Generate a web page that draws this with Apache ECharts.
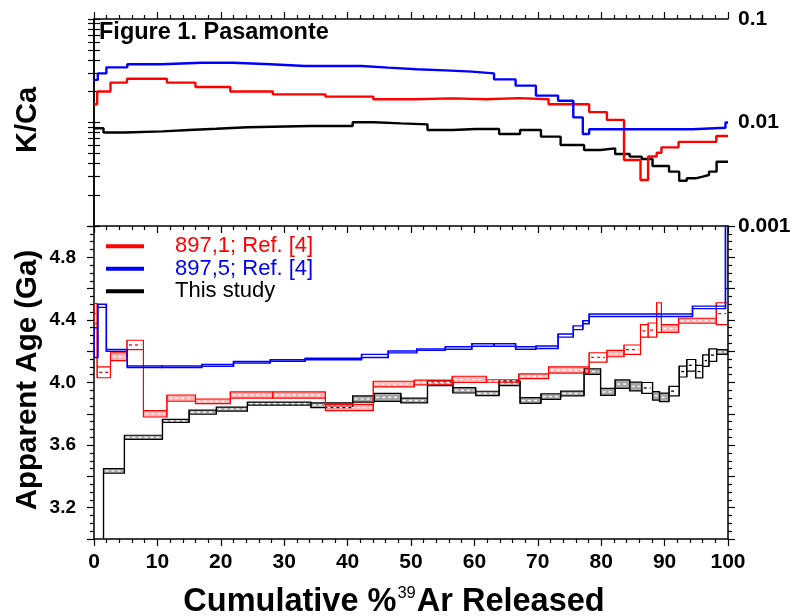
<!DOCTYPE html>
<html>
<head>
<meta charset="utf-8">
<script src="https://cdn.jsdelivr.net/npm/echarts@6/dist/echarts.min.js"></script>
<style>
  html, body { margin: 0; padding: 0; background: #fff; }
  #chart { width: 794px; height: 616px; }
</style>
</head>
<body>
<div id="chart"></div>
<script>
// ---- Step data: cumulative %39Ar step edges, K/Ca, apparent age (Ga) and 1-sigma half-width ----

// 897,1 (Ref. [4])
const redEdges = [0, 0.5, 2.6, 5.2, 7.8, 11.5, 16.0, 21.5, 28.2, 36.5, 44.05, 50.5, 56.5, 61.9, 67.0, 71.7, 78.1, 80.9, 83.6, 86.2, 87.4, 88.75, 89.5, 92.2, 98.15, 100];
const redKCa = [0.015, 0.0199, 0.0243, 0.0265, 0.0265, 0.0243, 0.022, 0.0199, 0.0187, 0.0178, 0.0168, 0.0171, 0.0168, 0.0172, 0.0168, 0.015, 0.0126, 0.0106, 0.00434, 0.00278, 0.0047, 0.0051, 0.00575, 0.0065, 0.0074];
const redAge = [4.44, 4.065, 4.165, 4.24, 3.80, 3.90, 3.88, 3.92, 3.92, 3.84, 3.99, 4.00, 4.02, 4.01, 4.04, 4.08, 4.16, 4.185, 4.21, 4.33, 4.335, 4.415, 4.345, 4.395, 4.44];
const redErr = [0.065, 0.035, 0.025, 0.03, 0.02, 0.02, 0.015, 0.02, 0.02, 0.02, 0.018, 0.015, 0.02, 0.008, 0.015, 0.02, 0.03, 0.02, 0.03, 0.04, 0.045, 0.095, 0.025, 0.016, 0.07];

// 897,5 (Ref. [4])
const blueEdges = [0, 0.6, 1.95, 5.25, 10.7, 17.0, 22.0, 27.8, 33.3, 42.2, 46.4, 50.9, 55.4, 59.6, 63.1, 66.5, 69.7, 73.2, 75.6, 77.1, 78.1, 94.4, 99.6, 100];
const blueKCa = [0.0258, 0.0298, 0.0341, 0.0365, 0.0378, 0.0378, 0.0365, 0.0351, 0.0351, 0.0339, 0.0327, 0.0319, 0.031, 0.0298, 0.0261, 0.0227, 0.0182, 0.0162, 0.0112, 0.00774, 0.0086, 0.0089, 0.0100];
const blueAge = [4.255, 4.49, 4.205, 4.10, 4.10, 4.11, 4.13, 4.14, 4.15, 4.17, 4.195, 4.21, 4.22, 4.24, 4.24, 4.22, 4.225, 4.30, 4.35, 4.385, 4.43, 4.48, 5.2];
const blueErr = [0.095, 0.01, 0.006, 0.005, 0.005, 0.006, 0.005, 0.005, 0.005, 0.01, 0.006, 0.005, 0.008, 0.008, 0.008, 0.008, 0.008, 0.01, 0.012, 0.01, 0.008, 0.008, 0.6];

// This study
const blackEdges = [0, 1.5, 4.8, 10.8, 15.0, 19.3, 24.2, 34.2, 40.8, 44.2, 48.4, 52.6, 56.6, 60.2, 63.9, 67.2, 70.5, 73.6, 77.3, 79.9, 82.2, 84.5, 86.4, 88.1, 89.2, 90.7, 92.3, 93.5, 94.9, 96.0, 97.0, 98.2, 100];
const blackKCa = [0.0088, 0.008, 0.0082, 0.00847, 0.0087, 0.009, 0.00925, 0.00925, 0.01005, 0.0098, 0.0096, 0.00847, 0.00865, 0.00865, 0.00774, 0.00847, 0.0073, 0.00607, 0.00542, 0.00563, 0.00497, 0.00468, 0.00444, 0.0038, 0.0038, 0.00335, 0.00274, 0.00289, 0.003, 0.00311, 0.00335, 0.00418];
const blackAge = [2.97, 3.435, 3.65, 3.755, 3.81, 3.83, 3.865, 3.855, 3.895, 3.905, 3.885, 3.995, 3.95, 3.93, 3.995, 3.885, 3.91, 3.93, 4.07, 3.94, 3.99, 3.975, 3.965, 3.915, 3.905, 3.945, 4.07, 4.11, 4.07, 4.14, 4.175, 4.195];
const blackErr = [0.02, 0.015, 0.013, 0.01, 0.013, 0.013, 0.01, 0.015, 0.02, 0.025, 0.015, 0.015, 0.017, 0.014, 0.015, 0.018, 0.018, 0.015, 0.018, 0.022, 0.027, 0.028, 0.035, 0.027, 0.027, 0.03, 0.035, 0.037, 0.04, 0.037, 0.04, 0.015];

// Axis tick / label values
const xTicks = [0, 100, 10];                  // min, max, major interval
const ageLabels = [3.2, 3.6, 4.0, 4.4, 4.8];
const kcaLabels = [0.001, 0.01, 0.1];
const legendNames = ['897,1; Ref. [4]', '897,5; Ref. [4]', 'This study'];

// ---- Styling ----
const FONT = '"Liberation Sans", Arial, Helvetica, sans-serif';
const RED = '#ff0000', BLUE = '#0000ff', BLACK = '#000000';

// log-axis ticks at 1..9 x each decade
const kcaTicks = [];
kcaLabels.forEach((d, i) => {
  if (i < kcaLabels.length - 1) { for (let k = 1; k <= 9; k++) kcaTicks.push(+(k * d).toPrecision(3)); }
  else kcaTicks.push(d);
});

function kcaSeries(name, color, edges, vals) {
  const data = edges.map((x, i) => [x, vals[Math.min(i, vals.length - 1)]]);
  return {
    type: 'line', name: name + ' K/Ca', xAxisIndex: 0, yAxisIndex: 0,
    step: 'end', data, showSymbol: false, symbol: 'none',
    lineStyle: { color, width: 2.4 }, itemStyle: { color },
    z: 3, silent: true
  };
}

// Age spectrum: box per heating step (age +/- error) joined to its neighbours
function ageSeries(name, color, fill, edges, ages, errs, opts) {
  const data = ages.map((a, i) => [edges[i], edges[i + 1], a - errs[i], a + errs[i], a]);
  return {
    type: 'custom', name, xAxisIndex: 2, yAxisIndex: 2, clip: true,
    data, encode: { x: [0, 1], y: [2, 3] },
    itemStyle: { color }, z: opts.z, silent: true,
    renderItem(params, api) {
      const i = params.dataIndex;
      const x0 = api.value(0), x1 = api.value(1), lo = api.value(2), hi = api.value(3), mid = api.value(4);
      const tl = api.coord([x0, hi]), br = api.coord([x1, lo]);
      const h = br[1] - tl[1];
      const lw = opts.lineWidth;
      const kids = [];
      kids.push({
        type: 'rect',
        shape: { x: tl[0], y: tl[1], width: br[0] - tl[0], height: h },
        style: { fill: (opts.fillNarrow && h < 9) ? fill : 'rgba(0,0,0,0)', stroke: color, lineWidth: lw }
      });
      if (i > 0) {
        const pLo = ages[i - 1] - errs[i - 1], pHi = ages[i - 1] + errs[i - 1];
        const a1 = api.coord([x0, pHi]), b1 = api.coord([x0, hi]);
        const a2 = api.coord([x0, pLo]), b2 = api.coord([x0, lo]);
        kids.push({ type: 'line', shape: { x1: a1[0], y1: a1[1], x2: b1[0], y2: b1[1] }, style: { stroke: color, lineWidth: lw } });
        kids.push({ type: 'line', shape: { x1: a2[0], y1: a2[1], x2: b2[0], y2: b2[1] }, style: { stroke: color, lineWidth: lw } });
      }
      if (opts.dashed) {
        const m0 = api.coord([x0, mid]), m1 = api.coord([x1, mid]);
        kids.push({
          type: 'line', shape: { x1: m0[0] + 2, y1: m0[1], x2: m1[0] - 2, y2: m1[1] },
          style: { stroke: h < 9 ? '#ffffff' : color, lineWidth: 1.3, lineDash: [3, 3] }
        });
      }
      return { type: 'group', children: kids };
    }
  };
}

const axisLine = { show: true, lineStyle: { color: '#000', width: 1.5 } };
const tickStyle = { color: '#000', width: 1.2 };

function xAxisDef(grid, pos, labels) {
  return {
    gridIndex: grid, type: 'value', position: pos,
    min: xTicks[0], max: xTicks[1], interval: xTicks[2],
    axisLine, splitLine: { show: false },
    axisTick: { show: true, length: 7, lineStyle: tickStyle },
    minorTick: { show: true, splitNumber: 5, length: 4, lineStyle: tickStyle },
    axisLabel: labels ? { show: true, fontFamily: FONT, fontWeight: 'bold', fontSize: 21, color: '#000', margin: 13 } : { show: false }
  };
}
function kcaAxisDef(pos, labels) {
  return {
    gridIndex: 0, type: 'log', logBase: 10, position: pos,
    min: kcaLabels[0], max: kcaLabels[kcaLabels.length - 1],
    axisLine, splitLine: { show: false }, minorTick: { show: false },
    axisTick: { show: true, length: 6, lineStyle: tickStyle, customValues: kcaTicks },
    axisLabel: labels ? {
      show: true, customValues: kcaLabels, fontFamily: FONT, fontWeight: 'bold', fontSize: 21, color: '#000', margin: 10,
      formatter: v => String(+(+v).toPrecision(2))
    } : { show: false }
  };
}
function ageAxisDef(pos, labels) {
  return {
    gridIndex: 1, type: 'value', position: pos, min: 3, max: 5, interval: 0.2,
    axisLine, splitLine: { show: false },
    axisTick: { show: true, length: 7, lineStyle: tickStyle },
    minorTick: { show: true, splitNumber: 4, length: 4, lineStyle: tickStyle },
    axisLabel: labels ? {
      show: true, fontFamily: FONT, fontWeight: 'bold', fontSize: 19, color: '#000', margin: 18,
      formatter: v => ageLabels.some(l => Math.abs(l - v) < 1e-6) ? (+v).toFixed(1) : ''
    } : { show: false }
  };
}

const chart = echarts.init(document.getElementById('chart'), null, { renderer: 'canvas' });
chart.setOption({
  animation: false,
  backgroundColor: '#ffffff',
  textStyle: { fontFamily: FONT },
  grid: [
    { left: 94, right: 66, top: 19, height: 207 },
    { left: 94, right: 66, top: 226, height: 313 }
  ],
  xAxis: [xAxisDef(0, 'bottom', false), xAxisDef(0, 'top', false), xAxisDef(1, 'bottom', true)],
  yAxis: [kcaAxisDef('right', true), kcaAxisDef('left', false), ageAxisDef('left', true), ageAxisDef('right', false)],
  legend: {
    orient: 'vertical', left: 101, top: 230, itemWidth: 38, itemHeight: 4, itemGap: 0,
    selectedMode: false,
    textStyle: { fontFamily: FONT, fontSize: 22, lineHeight: 22.5, padding: [0, 0, 0, 26] },
    data: [
      { name: legendNames[0], icon: 'rect', itemStyle: { color: RED }, textStyle: { color: RED } },
      { name: legendNames[1], icon: 'rect', itemStyle: { color: BLUE }, textStyle: { color: BLUE } },
      { name: legendNames[2], icon: 'rect', itemStyle: { color: BLACK }, textStyle: { color: BLACK } }
    ]
  },
  graphic: [
    { type: 'text', x: 99, y: 33, style: { text: 'Figure 1. Pasamonte', fontFamily: FONT, fontWeight: 'bold', fontSize: 23.5, fill: '#000', textVerticalAlign: 'middle' } },
    { type: 'text', x: 28, y: 120, rotation: Math.PI / 2, style: { text: 'K/Ca', fontFamily: FONT, fontWeight: 'bold', fontSize: 29, fill: '#000', textAlign: 'center', textVerticalAlign: 'middle' } },
    { type: 'text', x: 28, y: 380, rotation: Math.PI / 2, style: { text: 'Apparent Age (Ga)', fontFamily: FONT, fontWeight: 'bold', fontSize: 29.5, fill: '#000', textAlign: 'center', textVerticalAlign: 'middle' } },
    { type: 'text', x: 394, y: 602, style: {
        text: '{a|Cumulative %}{s|39}{a|Ar Released}',
        textAlign: 'center', textVerticalAlign: 'middle',
        rich: {
          a: { fontFamily: FONT, fontWeight: 'bold', fontSize: 32.5, fill: '#000', lineHeight: 35 },
          s: { fontFamily: FONT, fontSize: 16.5, fill: '#000', lineHeight: 35, verticalAlign: 'top', padding: [0, 1, 0, 1] }
        }
    } }
  ],
  series: [
    kcaSeries(legendNames[2], BLACK, blackEdges, blackKCa),
    kcaSeries(legendNames[0], RED, redEdges, redKCa),
    kcaSeries(legendNames[1], BLUE, blueEdges, blueKCa),
    ageSeries(legendNames[2], BLACK, 'rgba(0,0,0,0.35)', blackEdges, blackAge, blackErr, { z: 2, lineWidth: 1.2, dashed: true, fillNarrow: true }),
    ageSeries(legendNames[0], RED, 'rgba(255,0,0,0.3)', redEdges, redAge, redErr, { z: 3, lineWidth: 1.1, dashed: true, fillNarrow: true }),
    ageSeries(legendNames[1], BLUE, 'rgba(0,0,255,0.3)', blueEdges, blueAge, blueErr, { z: 4, lineWidth: 1.4, dashed: false, fillNarrow: false })
  ]
});
</script>
</body>
</html>
